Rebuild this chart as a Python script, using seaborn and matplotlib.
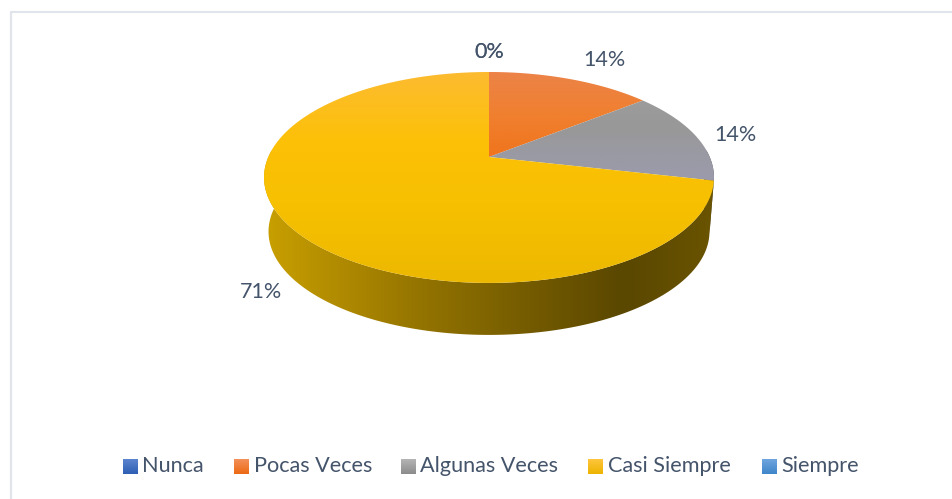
"""
Pie chart with 3D look: Nunca / Pocas Veces / Algunas Veces / Casi Siempre / Siempre
"""

import numpy as np
import matplotlib
matplotlib.use("Agg")
import matplotlib.pyplot as plt
import seaborn as sns
from matplotlib.patches import Polygon

categories = ["Nunca", "Pocas Veces", "Algunas Veces", "Casi Siempre", "Siempre"]
counts = [0, 1, 1, 5, 0]

# top surface gradients (top to bottom)
top_colors = {
    "Pocas Veces": ["#ec8348", "#f08030", "#f0741c"],
    "Algunas Veces": ["#9c9c9c", "#989898", "#9a9aa4", "#9a9aac"],
    "Casi Siempre": ["#fcbb30", "#fdc107", "#f6c000", "#ecb800"],
}
# side wall gradient (left to right)
wall_colors = ["#c9a000", "#ab8600", "#8c6e00", "#735a00", "#5a4700", "#6a5400"]
wall_grey = ["#6a6a6a", "#555555"]
swatch_colors = {
    "Nunca": ["#5b84cf", "#2f5fb3"],
    "Pocas Veces": ["#f4905a", "#ec6a14"],
    "Algunas Veces": ["#b4b4b4", "#8c8c8c"],
    "Casi Siempre": ["#ffc53d", "#ecb400"],
    "Siempre": ["#6fa5de", "#3f86c9"],
}

TEXT = "#44546A"
BORDER = "#e1e4ea"

sns.set_theme(style="white")
plt.rcParams["font.family"] = ["Lato", "DejaVu Sans"]


def project(theta, cx=489.0, cy=157.0, a=220.7, b=101.5, k=0.194, scale=1.0, drop=0.0):
    """Perspective view of the unit circle, angles in degrees."""
    rad = np.deg2rad(theta)
    u, v = np.cos(rad), -np.sin(rad)
    d = 1 - k * v
    return np.column_stack([cx + scale * a * u / d, cy + drop + scale * b * v / d])


def gradient(ax, colors, poly, vertical=True, extent=None):
    """Fill a polygon with a linear gradient."""
    cmap = sns.blend_palette(colors, as_cmap=True)
    x0, y0 = poly.min(axis=0)
    x1, y1 = poly.max(axis=0)
    if extent is None:
        extent = (x0, x1, y1, y0)
    g = np.linspace(0, 1, 256)
    g = g[:, None] if vertical else g[None, :]
    im = ax.imshow(g, cmap=cmap, extent=extent, aspect="auto", vmin=0, vmax=1,
                   interpolation="bilinear", zorder=2)
    patch = Polygon(poly, closed=True, transform=ax.transData, fc="none", ec="none")
    ax.add_patch(patch)
    im.set_clip_path(patch)
    return im


fig = plt.figure(figsize=(9.52, 4.99), dpi=100)
ax = fig.add_axes([0, 0, 1, 1])

# the pie itself gives the slice angles
wedges, _ = ax.pie(counts, startangle=90, counterclock=False)
angles = [(w.theta1, w.theta2) for w in wedges]
for w in wedges:
    w.remove()
ax.set_aspect("auto")
ax.set_xlim(0, 952)
ax.set_ylim(499, 0)
ax.set_autoscale_on(False)
ax.axis("off")

# chart border
ax.plot([11, 11], [499, 12], color=BORDER, lw=1.6, zorder=1)
ax.plot([11, 952], [12, 12], color=BORDER, lw=1.6, zorder=1)

# side walls
for name, (t1, t2) in zip(categories, angles):
    if t2 - t1 < 0.01 or name == "Pocas Veces":
        continue
    th = np.linspace(t1, t2, 240)
    rim = project(th)
    keep = rim[:, 1] > 150
    top_rim = rim[keep]
    low_rim = project(th, scale=0.98, drop=54.5)[keep]
    poly = np.vstack([top_rim, low_rim[::-1]])
    cols = wall_colors if name == "Casi Siempre" else wall_grey
    gradient(ax, cols, poly, vertical=False, extent=(264, 714, 340, 150))

# top surface
centre = project(np.array([0.0]), a=0, b=0)
for name, (t1, t2) in zip(categories, angles):
    if t2 - t1 < 0.01:
        continue
    th = np.linspace(t1, t2, 300)
    poly = np.vstack([centre, project(th)])
    im = gradient(ax, top_colors[name], poly)
    im.set_zorder(3)

# data labels
total = sum(counts)
label_pos = [(489, 52), (604, 60), (735, 135), (261, 292), (489, 52)]
for c, (x, y) in zip(counts, label_pos):
    ax.text(x, y, f"{c / total:.0%}", color=TEXT, fontsize=15.5,
            ha="center", va="center", zorder=5)

# legend
swatch_x = [123, 234, 401, 588, 762]
for name, x in zip(categories, swatch_x):
    g = np.linspace(0, 1, 32)[:, None]
    ax.imshow(g, cmap=sns.blend_palette(swatch_colors[name], as_cmap=True),
              extent=(x, x + 15, 474, 459), aspect="auto", zorder=4)
    ax.text(x + 19.5, 466, name, color=TEXT, fontsize=15.6, ha="left", va="center", zorder=5)

ax.set_xlim(0, 952)
ax.set_ylim(499, 0)

plt.savefig("out.png", dpi=100)
plt.close()
